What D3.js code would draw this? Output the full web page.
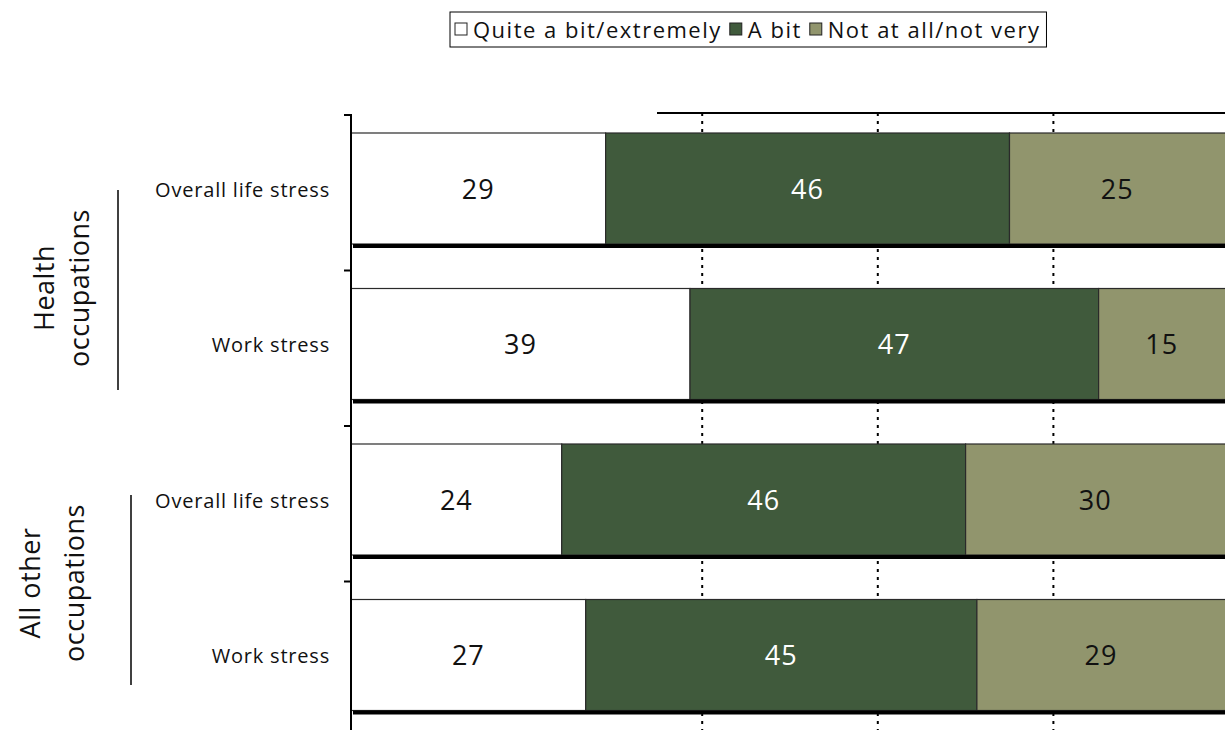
<!DOCTYPE html>
<html>
<head>
<meta charset="utf-8">
<script src="https://cdn.jsdelivr.net/npm/d3@7.9.0/dist/d3.min.js"></script>
<style>
  body { margin: 0; background: #fff; }
  svg { display: block; font-family: "Open Sans", "Lato", sans-serif; }
</style>
</head>
<body>
<svg id="chart" width="1225" height="730"></svg>
<script>
// Data
const groups = ["Health occupations", "All other occupations"];
const groupLines = [["Health", "occupations"], ["All other", "occupations"]];
const rows = ["Overall life stress", "Work stress", "Overall life stress", "Work stress"];
const quiteABit = [29, 39, 24, 27];
const aBit = [46, 47, 46, 45];
const notAtAll = [25, 15, 30, 29];
const seriesNames = ["Quite a bit/extremely", "A bit", "Not at all/not very"];
const gridTicks = [40, 60, 80];

const colors = ["#ffffff", "#405a3c", "#91956d"];

const svg = d3.select("#chart");

// Scales
const x = d3.scaleLinear().domain([0, 100]).range([351, 1229]);
const y = d3.scaleBand().domain(d3.range(rows.length)).range([114, 736]).padding(0);
const barOffset = 19, barH = 111;

// Gridlines (dotted)
svg.append("g")
    .selectAll("line")
    .data(gridTicks)
    .enter()
    .append("line")
    .attr("x1", d => x(d))
    .attr("x2", d => x(d))
    .attr("y1", 113)
    .attr("y2", 730)
    .attr("stroke", "#000")
    .attr("stroke-width", 2)
    .attr("stroke-dasharray", "3,5");

// Top line
svg.append("line")
    .attr("x1", 657).attr("x2", 1225)
    .attr("y1", 113).attr("y2", 113)
    .attr("stroke", "#000").attr("stroke-width", 2);

// Stacked data (normalised to 100)
const stacked = rows.map((r, i) => {
    const vals = [quiteABit[i], aBit[i], notAtAll[i]];
    const total = d3.sum(vals);
    let acc = 0;
    return vals.map((v, k) => {
        const seg = { row: i, key: k, value: v, x0: acc / total * 100, x1: (acc + v) / total * 100 };
        acc += v;
        return seg;
    });
});

const rowG = svg.append("g")
    .selectAll("g")
    .data(stacked)
    .enter()
    .append("g")
    .attr("transform", (d, i) => `translate(0,${y(i) + barOffset})`);

rowG.selectAll("rect")
    .data(d => d)
    .enter()
    .append("rect")
    .attr("x", d => x(d.x0))
    .attr("y", 0)
    .attr("width", d => x(d.x1) - x(d.x0))
    .attr("height", barH)
    .attr("fill", d => colors[d.key])
    .attr("stroke", "#2a2a2a")
    .attr("stroke-width", 1.2);

rowG.selectAll("text")
    .data(d => d)
    .enter()
    .append("text")
    .attr("x", d => (x(d.x0) + Math.min(x(d.x1), 1225)) / 2)
    .attr("y", barH / 2 + 10)
    .attr("text-anchor", "middle")
    .attr("fill", d => d.key === 1 ? "#fff" : "#111")
    .style("font-size", "27px")
    .style("letter-spacing", "1px")
    .text(d => d.value);

// Thick bottom line of each bar
rowG.append("line")
    .attr("x1", 353).attr("x2", 1225)
    .attr("y1", barH + 2).attr("y2", barH + 2)
    .attr("stroke", "#000").attr("stroke-width", 4);

// Y axis
svg.append("line")
    .attr("x1", 351).attr("x2", 351)
    .attr("y1", 114).attr("y2", 730)
    .attr("stroke", "#000").attr("stroke-width", 2);

svg.append("g")
    .selectAll("line")
    .data(d3.range(rows.length + 1))
    .enter()
    .append("line")
    .attr("x1", 344).attr("x2", 351)
    .attr("y1", d => d < rows.length ? y(d) + 1 : 736)
    .attr("y2", d => d < rows.length ? y(d) + 1 : 736)
    .attr("stroke", "#000").attr("stroke-width", 2);

// Row labels
svg.append("g")
    .selectAll("text")
    .data(rows)
    .enter()
    .append("text")
    .attr("x", 330)
    .attr("y", (d, i) => y(i) + barOffset + barH / 2 + 8)
    .attr("text-anchor", "end")
    .style("font-size", "20px")
    .style("letter-spacing", "0.8px")
    .attr("fill", "#111")
    .text(d => d);

// Group labels and separator lines
const groupCenters = [288, 583];
const groupTextX = [[45, 80], [31, 75]];
const groupBars = [{ x: 118, y1: 190, y2: 390 }, { x: 131, y1: 495, y2: 685 }];

groups.forEach((g, gi) => {
    groupLines[gi].forEach((line, li) => {
        svg.append("text")
            .attr("transform", `translate(${groupTextX[gi][li]},${groupCenters[gi]}) rotate(-90)`)
            .attr("text-anchor", "middle")
            .attr("dy", "0.35em")
            .style("font-size", "27px")
            .style("letter-spacing", "0.5px")
            .attr("fill", "#111")
            .text(line);
    });
    svg.append("line")
        .attr("x1", groupBars[gi].x).attr("x2", groupBars[gi].x)
        .attr("y1", groupBars[gi].y1).attr("y2", groupBars[gi].y2)
        .attr("stroke", "#000").attr("stroke-width", 1.5);
});

// Legend
const legend = svg.append("g");
const legendBox = legend.append("rect")
    .attr("y", 12).attr("height", 35)
    .attr("fill", "#fff").attr("stroke", "#000").attr("stroke-width", 1);

let lx = 455;
seriesNames.forEach((name, i) => {
    legend.append("rect")
        .attr("x", lx).attr("y", 23)
        .attr("width", 12).attr("height", 12)
        .attr("fill", colors[i])
        .attr("stroke", "#222").attr("stroke-width", 1);
    const t = legend.append("text")
        .attr("x", lx + 18).attr("y", 38)
        .style("font-size", "22px")
        .style("letter-spacing", "1.5px")
        .attr("fill", "#111")
        .text(name);
    lx += 18 + t.node().getComputedTextLength() + 8;
});
legendBox.attr("x", 450).attr("width", lx - 450 - 2);
</script>
</body>
</html>
